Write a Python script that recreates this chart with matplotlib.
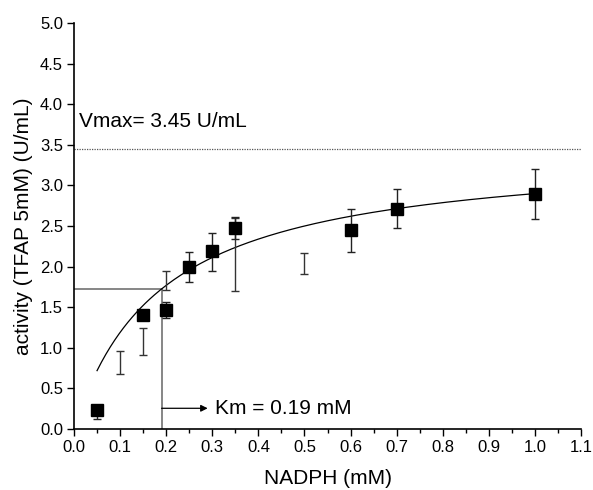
import numpy as np
import matplotlib
matplotlib.use("Agg")
import matplotlib.pyplot as plt
from matplotlib.ticker import MultipleLocator

plt.rcParams['font.family'] = ['Liberation Sans', 'DejaVu Sans']

# Measured activities (squares with error bars)
nadph = [0.05, 0.15, 0.2, 0.25, 0.3, 0.35, 0.6, 0.7, 1.0]
activity = [0.24, 1.40, 1.47, 2.00, 2.19, 2.48, 2.45, 2.71, 2.90]
activity_err_low = [0.12, 0.0, 0.10, 0.19, 0.24, 0.14, 0.27, 0.24, 0.31]
activity_err_high = [0.0, 0.0, 0.09, 0.18, 0.23, 0.13, 0.26, 0.24, 0.30]

# Replicate series shown only by its error bars
rep_nadph = [0.1, 0.15, 0.2, 0.35, 0.5]
rep_activity = [0.82, 1.077, 1.83, 2.15, 2.04]
rep_err = [0.145, 0.168, 0.12, 0.45, 0.13]

# Michaelis-Menten fit parameters
vmax = 3.45
km = 0.19

x_ticks = [0.0, 0.1, 0.2, 0.3, 0.4, 0.5, 0.6, 0.7, 0.8, 0.9, 1.0, 1.1]
y_ticks = [0.0, 0.5, 1.0, 1.5, 2.0, 2.5, 3.0, 3.5, 4.0, 4.5, 5.0]

fig = plt.figure(figsize=(5.93, 4.90), dpi=100)
ax = fig.add_axes([0.1248, 0.1245, 0.855, 0.8285])

# fitted curve
xf = np.linspace(0.05, 1.0, 200)
ax.plot(xf, vmax * xf / (km + xf), color='black', lw=0.9, zorder=3)

# Vmax asymptote
ax.axhline(vmax, color='#555555', lw=0.9, ls=(0, (1, 1)), zorder=2)

# Km guides
ax.plot([0, km], [vmax / 2, vmax / 2], color='#666666', lw=1.1, zorder=2)
ax.plot([km, km], [0, vmax / 2], color='#666666', lw=1.1, zorder=2)
ax.annotate('', xy=(0.29, 0.255), xytext=(km, 0.255),
            arrowprops=dict(arrowstyle='-|>', color='black', lw=0.9,
                            mutation_scale=10, shrinkA=0, shrinkB=0))
ax.text(0.305, 0.255, 'Km = 0.19 mM', fontsize=15, va='center', ha='left')
ax.text(0.01, 3.79, 'Vmax= 3.45 U/mL', fontsize=15, va='center', ha='left')

# replicate error bars
ax.errorbar(rep_nadph, rep_activity, yerr=rep_err, fmt='none',
            ecolor='#333333', elinewidth=1.0, capsize=3, capthick=1.0, zorder=4)

# measured points
ax.errorbar(nadph, activity, yerr=[activity_err_low, activity_err_high],
            fmt='s', color='black', ms=8, ecolor='#222222',
            elinewidth=1.0, capsize=3, capthick=1.0, zorder=5)

ax.set_xlim(0, 1.1)
ax.set_ylim(0, 5.0)
ax.set_xticks(x_ticks)
ax.set_yticks(y_ticks)
ax.set_xticklabels([f'{v:.1f}' for v in x_ticks])
ax.set_yticklabels([f'{v:.1f}' for v in y_ticks])
ax.xaxis.set_minor_locator(MultipleLocator(0.05))
ax.tick_params(axis='both', which='major', direction='out', length=5, width=1.0,
               labelsize=12, pad=3)
ax.tick_params(axis='x', which='minor', direction='out', length=3, width=1.0)

for side in ('top', 'right'):
    ax.spines[side].set_visible(False)
for side in ('left', 'bottom'):
    ax.spines[side].set_linewidth(1.2)

ax.set_xlabel('NADPH (mM)', fontsize=15, labelpad=10)
ax.set_ylabel('activity (TFAP 5mM) (U/mL)', fontsize=15, labelpad=5)

fig.savefig('out.png', dpi=100)
